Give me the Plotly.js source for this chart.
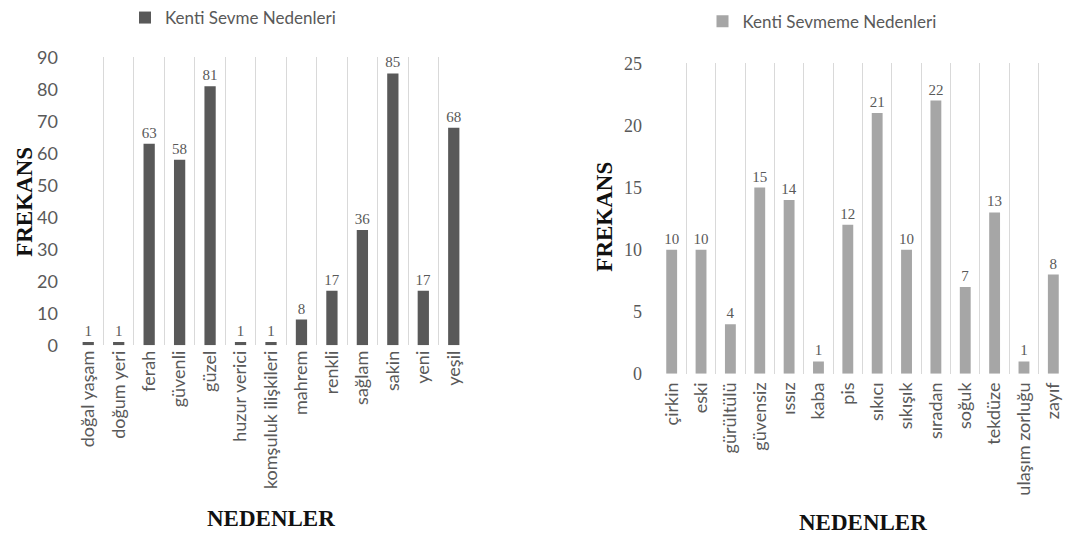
<!DOCTYPE html>
<html>
<head>
<meta charset="utf-8">
<script src="https://cdn.plot.ly/plotly-3.0.1.min.js"></script>
<style>html,body{margin:0;padding:0;background:#fff;}#chart{width:1070px;height:540px;}</style>
</head>
<body>
<div id="chart"></div>
<script>
const sevmeCategories = ["doğal yaşam","doğum yeri","ferah","güvenli","güzel","huzur verici","komşuluk ilişkileri","mahrem","renkli","sağlam","sakin","yeni","yeşil"];
const sevmeValues = [1,1,63,58,81,1,1,8,17,36,85,17,68];
const sevmemeCategories = ["çirkin","eski","gürültülü","güvensiz","ıssız","kaba","pis","sıkıcı","sıkışık","sıradan","soğuk","tekdüze","ulaşım zorluğu","zayıf"];
const sevmemeValues = [10,10,4,15,14,1,12,21,10,22,7,13,1,8];
const leftTicks = [0,10,20,30,40,50,60,70,80,90];
const rightTicks = [0,5,10,15,20,25];

const gray = "#595959";
const sans = "Lato, 'Noto Sans', sans-serif";
const serif = "'Liberation Serif', 'Times New Roman', serif";
const tickFont = {family: sans, size: 18, color: gray};
const labelFont = {family: serif, size: 15, color: gray};
const titleFont = {family: serif, size: 23, color: "#111"};

const traces = [
  {type: "bar", x: sevmeCategories, y: sevmeValues, name: "Kenti Sevme Nedenleri",
   marker: {color: "#595959"}, text: sevmeValues.map(String), textposition: "outside",
   textfont: labelFont, outsidetextfont: labelFont, constraintext: "none", cliponaxis: false,
   xaxis: "x", yaxis: "y", legend: "legend", hoverinfo: "x+y"},
  {type: "bar", x: sevmemeCategories, y: sevmemeValues, name: "Kenti Sevmeme Nedenleri",
   marker: {color: "#a6a6a6"}, text: sevmemeValues.map(String), textposition: "outside",
   textfont: labelFont, outsidetextfont: labelFont, constraintext: "none", cliponaxis: false,
   xaxis: "x2", yaxis: "y2", legend: "legend2", hoverinfo: "x+y"}
];

const xCommon = {type: "category", tickson: "boundaries", showgrid: true, gridcolor: "#d9d9d9", gridwidth: 1,
  ticks: "", tickangle: -90, tickfont: tickFont, showline: false, zeroline: false};
const yCommon = {showgrid: false, zeroline: false, showline: false, ticks: "", ticklabelstandoff: 14};

const legendFont = {family: sans, size: 17, color: gray};

const layout = {
  width: 1070, height: 540,
  margin: {l: 0, r: 0, t: 0, b: 0},
  paper_bgcolor: "#fff", plot_bgcolor: "#fff",
  bargap: 0.63,
  showlegend: true,
  xaxis: Object.assign({}, xCommon, {domain: [73/1070, 469/1070], anchor: "y", ticklabelstandoff: 1}),
  yaxis: Object.assign({}, yCommon, {domain: [1-343/540, 1-52/540], range: [0, 90], tickvals: leftTicks, anchor: "x",
    tickfont: {family: sans, size: 18, color: gray}}),
  xaxis2: Object.assign({}, xCommon, {domain: [657/1070, 1068/1070], anchor: "y2", ticklabelstandoff: 4}),
  yaxis2: Object.assign({}, yCommon, {domain: [1-372/540, 1-58/540], range: [0, 25], tickvals: rightTicks, anchor: "x2",
    tickfont: {family: serif, size: 18, color: gray}}),
  legend: {x: 233/1070, y: 1-12/540, xanchor: "center", yanchor: "middle", orientation: "h",
    font: legendFont, bgcolor: "rgba(0,0,0,0)"},
  legend2: {x: 822/1070, y: 1-16/540, xanchor: "center", yanchor: "middle", orientation: "h",
    font: legendFont, bgcolor: "rgba(0,0,0,0)"},
  annotations: [
    {text: "<b>FREKANS</b>", xref: "paper", yref: "paper", x: 25/1070, y: 1-198/540, textangle: -90,
     showarrow: false, font: titleFont, xanchor: "center", yanchor: "middle"},
    {text: "<b>NEDENLER</b>", xref: "paper", yref: "paper", x: 271/1070, y: 1-518/540,
     showarrow: false, font: titleFont, xanchor: "center", yanchor: "middle"},
    {text: "<b>FREKANS</b>", xref: "paper", yref: "paper", x: 605/1070, y: 1-213/540, textangle: -90,
     showarrow: false, font: titleFont, xanchor: "center", yanchor: "middle"},
    {text: "<b>NEDENLER</b>", xref: "paper", yref: "paper", x: 863/1070, y: 1-522/540,
     showarrow: false, font: titleFont, xanchor: "center", yanchor: "middle"}
  ]
};

Plotly.newPlot("chart", traces, layout, {displayModeBar: false, staticPlot: true});
</script>
</body>
</html>
